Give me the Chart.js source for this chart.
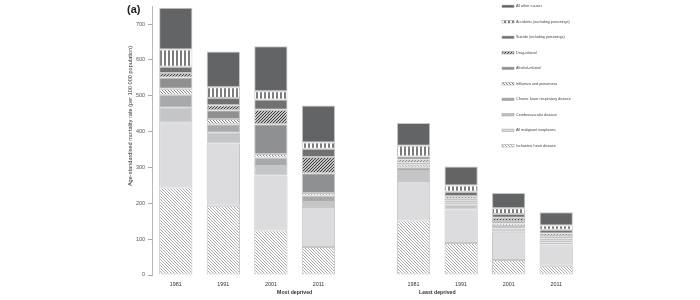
<!DOCTYPE html>
<html>
<head>
<meta charset="utf-8">
<script src="https://cdn.jsdelivr.net/npm/chart.js@4"></script>
<style>
html, body { margin: 0; padding: 0; background: #fff; }
#wrap { width: 700px; height: 300px; }
</style>
</head>
<body>
<div id="wrap"><canvas id="myChart"></canvas></div>
<script>
// categories (empty slot separates the two groups)
const years = ["1981", "1991", "2001", "2011", "", "1981", "1991", "2001", "2011"];
const groups = ["Most deprived", "Least deprived"];
const yTicks = [0, 100, 200, 300, 400, 500, 600, 700];

// rates per 100 000, bottom of stack first
const ihd = [244, 193, 124, 78, null, 152, 89, 42, 26];
const malignant = [182, 174, 154, 112, null, 110, 94, 79, 59];
const cerebro = [41, 30, 26, 14, null, 28, 14, 9, 6];
const clrd = [36, 24, 24, 18, null, 11, 6, 7, 6];
const influenza = [17, 14, 10, 7, null, 7, 4, 7, 5];
const alcohol = [31, 25, 83, 55, null, 6, 6, 7, 6];
const drug = [13, 14, 40, 45, null, 8, 7, 9, 8];
const suicide = [17, 20, 29, 23, null, 9, 12, 10, 10];
const accidents = [48, 30, 23, 18, null, 30, 18, 16, 12];
const other = [117, 100, 125, 103, null, 63, 53, 43, 37];

const FONT = "'Liberation Sans', Arial, sans-serif";

function makePattern(draw, w, h) {
	const c = document.createElement("canvas");
	c.width = w;
	c.height = h;
	const g = c.getContext("2d");
	g.fillStyle = "#fff";
	g.fillRect(0, 0, w, h);
	draw(g, w, h);
	return g.createPattern(c, "repeat");
}

function diag(color, size, lw, back) {
	return makePattern((g, w, h) => {
		g.strokeStyle = color;
		g.lineWidth = lw;
		g.beginPath();
		if (back) {
			g.moveTo(-1, -1); g.lineTo(w + 1, h + 1);
			g.moveTo(-1, h - 1); g.lineTo(1, h + 1);
			g.moveTo(w - 1, -1); g.lineTo(w + 1, 1);
		} else {
			g.moveTo(-1, h + 1); g.lineTo(w + 1, -1);
			g.moveTo(-1, 1); g.lineTo(1, -1);
			g.moveTo(w - 1, h + 1); g.lineTo(w + 1, h - 1);
		}
		g.stroke();
	}, size, size);
}

const stripes = makePattern((g, w, h) => {
	g.fillStyle = "#7c7c7c";
	g.fillRect(0, 0, 2, h);
}, 4, 4);

const causes = [
	{ label: "Ischaemic heart disease", data: ihd, fill: diag("#959595", 3, 0.8, true) },
	{ label: "All malignant neoplasms", data: malignant, fill: "#dcdcde" },
	{ label: "Cerebrovascular disease", data: cerebro, fill: "#c4c5c7" },
	{ label: "Chronic lower respiratory disease", data: clrd, fill: "#a8a9ab" },
	{ label: "Influenza and pneumonia", data: influenza, fill: diag("#6e6e6e", 3, 0.9, true) },
	{ label: "Alcohol-related", data: alcohol, fill: "#8f9092" },
	{ label: "Drug-related", data: drug, fill: diag("#383838", 3, 1.2, false) },
	{ label: "Suicide (including poisonings)", data: suicide, fill: "#707173" },
	{ label: "Accidents (excluding poisonings)", data: accidents, fill: stripes },
	{ label: "All other causes", data: other, fill: "#636466" },
];

const extras = {
	id: "extras",
	afterDraw(chart) {
		const ctx = chart.ctx;
		const x = chart.scales.x;
		ctx.save();
		ctx.fillStyle = "#222";
		ctx.font = "bold 11px " + FONT;
		ctx.textAlign = "left";
		ctx.textBaseline = "middle";
		ctx.fillText("(a)", 127, 10);

		// y-axis title
		ctx.save();
		ctx.translate(130.5, 116);
		ctx.rotate(-Math.PI / 2);
		ctx.textAlign = "center";
		ctx.fillStyle = "#333";
		ctx.font = "5.6px " + FONT;
		ctx.fillText("Age-standardised mortality rate (per 100 000 population)", 0, 0);
		ctx.restore();

		// group labels
		ctx.font = "bold 5.2px " + FONT;
		ctx.textAlign = "center";
		ctx.fillStyle = "#333";
		ctx.fillText(groups[0], (x.getPixelForValue(2) + x.getPixelForValue(3)) / 2, 293);
		ctx.fillText(groups[1], (x.getPixelForValue(5) + x.getPixelForValue(6)) / 2, 293);

		// legend, top of stack first
		ctx.font = "3.7px " + FONT;
		ctx.textAlign = "left";
		const list = chart.data.datasets.slice().reverse();
		list.forEach((ds, i) => {
			const yy = 6.3 + i * 15.5;
			ctx.fillStyle = ds.backgroundColor;
			ctx.fillRect(502, yy - 1.2, 12, 2.4);
			ctx.strokeStyle = "#9a9a9a";
			ctx.lineWidth = 0.5;
			ctx.strokeRect(502, yy - 1.2, 12, 2.4);
			ctx.fillStyle = "#444";
			ctx.fillText(ds.label, 516, yy);
		});
		ctx.restore();
	},
};

const ctx = document.getElementById("myChart").getContext("2d");
const myChart = new Chart(ctx, {
	type: "bar",
	data: {
		labels: years,
		datasets: causes.map((c) => ({
			label: c.label,
			data: c.data,
			backgroundColor: c.fill,
			borderColor: "#c6c6c6",
			borderWidth: 1,
			borderSkipped: false,
			barPercentage: 0.7,
			categoryPercentage: 1,
		})),
	},
	options: {
		responsive: true,
		maintainAspectRatio: false,
		animation: false,
		layout: { padding: { top: 5, right: 120, left: 0, bottom: 0 } },
		plugins: {
			legend: { display: false },
			tooltip: { enabled: false },
		},
		scales: {
			x: {
				stacked: true,
				afterFit: (s) => { s.height = 25; },
				grid: { display: false, drawTicks: false },
				border: { display: false },
				ticks: { font: { family: FONT, size: 5.4 }, color: "#333", padding: 6, maxRotation: 0, autoSkip: false },
			},
			y: {
				stacked: true,
				min: 0,
				max: 750,
				afterBuildTicks: (s) => { s.ticks = yTicks.map((v) => ({ value: v })); },
				afterFit: (s) => { s.width = 152; },
				ticks: { font: { family: FONT, size: 5.4 }, color: "#555", padding: 3 },
				grid: { drawOnChartArea: false, tickLength: 4, color: "#aaa" },
				border: { color: "#b8b8b8" },
			},
		},
	},
	plugins: [extras],
});
</script>
</body>
</html>
